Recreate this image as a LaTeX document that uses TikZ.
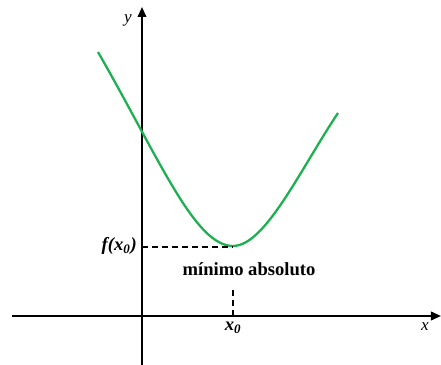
\documentclass[tikz,border=0pt]{standalone}
\usepackage{fontspec}
\setmainfont{Liberation Serif}
\usetikzlibrary{calc, positioning, arrows.meta}
\definecolor{curveG}{RGB}{30, 176, 80}

\begin{document}
\begin{tikzpicture}[x=0.7pt, y=-0.7pt, >={Triangle[length=7pt, width=6pt]}]
  \useasboundingbox (0, 0) rectangle (441, 365);
  \tikzset{
    axis/.style={line width=1.4pt, ->},
    guide/.style={line width=0.9pt, dash pattern=on 4pt off 3pt},
    lbl/.style={inner sep=0pt, font=\fontsize{13}{15}\selectfont\bfseries\itshape}
  }

  % axes
  \coordinate (xs) at (12, 316);
  \coordinate (xe) at (441, 316);
  \coordinate (ys) at (142, 365);
  \coordinate (ye) at (142, 7);
  \draw[axis] (xs) -- (xe);
  \draw[axis] (ys) -- (ye);
  \node[font=\fontsize{12}{14}\selectfont\itshape] (ylab) at (128, 20) {y};
  \node[font=\fontsize{12}{14}\selectfont\itshape] (xlab) at (425, 327) {x};

  % the curve
  \coordinate (m) at (233, 246);
  \draw[curveG, line width=1.6pt] (98, 52) .. controls (160, 160) and (195, 246) .. (m)
    .. controls (265, 246) and (300, 170) .. (338, 113);

  % minimum
  \coordinate (fy) at (142, 247);
  \coordinate (mf) at (233, 247);
  \coordinate (v1) at (233, 290);
  \coordinate (v2) at (233, 315);
  \draw[guide] (fy) -- (mf);
  \draw[guide] (v1) -- (v2);
  \node[lbl, anchor=east] (fx) at (137, 246) {f(x\textsubscript{0})};
  \node[lbl] (x0) at (233, 328) {x\textsubscript{0}};
  \node[inner sep=0pt, font=\fontsize{13}{15}\selectfont\bfseries] (minabs) at (249, 269) {mínimo absoluto};
\end{tikzpicture}
\end{document}
